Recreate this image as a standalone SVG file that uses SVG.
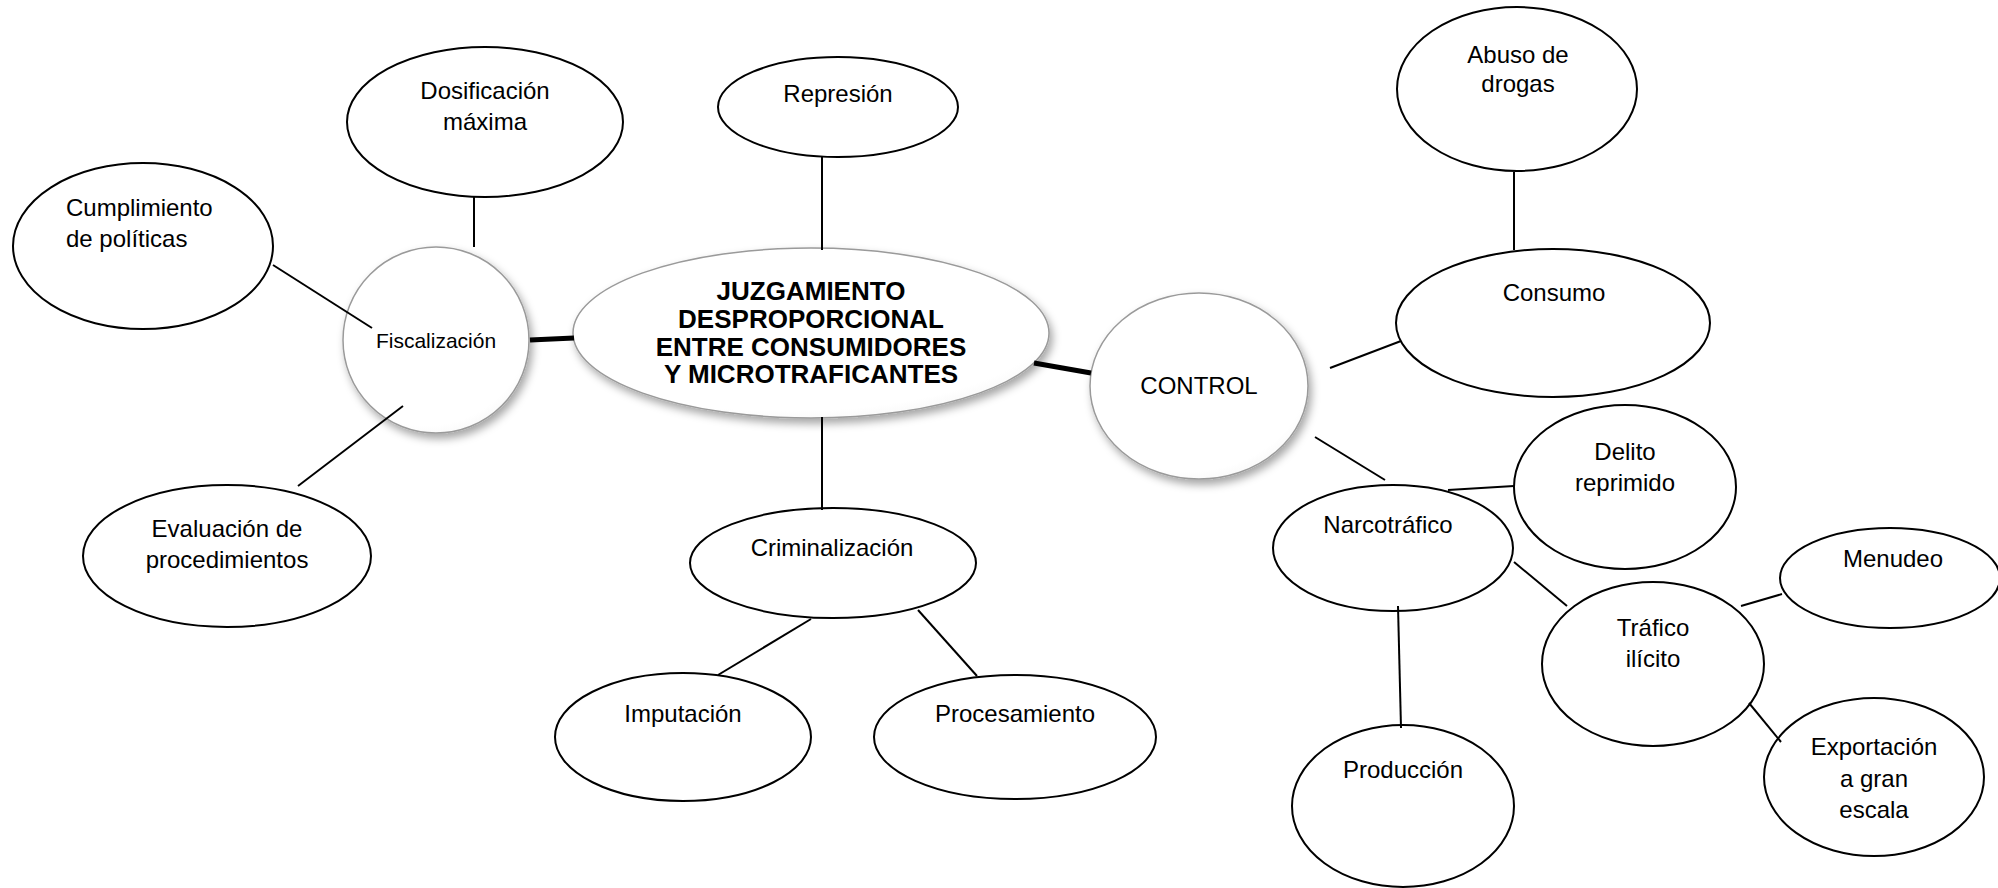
<svg xmlns="http://www.w3.org/2000/svg" width="1998" height="888" viewBox="0 0 1998 888">
<style>
text{font-family:"Liberation Sans",Arial,sans-serif;font-size:24px;fill:#000}
.c{text-anchor:middle}
.n{fill:#fff;stroke:#000;stroke-width:2}
.g{fill:url(#gf);stroke:#9a9a9a;stroke-width:1.5;filter:url(#sh)}
.ln{stroke:#000;stroke-width:2;fill:none}
.th{stroke:#000;stroke-width:5;fill:none}
.b{font-weight:bold;font-size:26px}
</style>
<defs>
<radialGradient id="gf" cx="0.45" cy="0.4" r="0.7">
<stop offset="0" stop-color="#ffffff"/>
<stop offset="0.8" stop-color="#ffffff"/>
<stop offset="1" stop-color="#f2f2f2"/>
</radialGradient>
<filter id="sh" x="-20%" y="-20%" width="150%" height="150%">
<feDropShadow dx="3" dy="5" stdDeviation="4" flood-color="#000" flood-opacity="0.35"/>
</filter>
</defs>
<rect width="1998" height="888" fill="#fff"/>
<g id="dosificacion"><ellipse class="n" cx="485" cy="122" rx="138" ry="75"/><text class="c" x="485" y="99">Dosificación</text><text class="c" x="485" y="130">máxima</text></g>
<g id="cumplimiento"><ellipse class="n" cx="143" cy="246" rx="130" ry="83"/><text x="66" y="216">Cumplimiento</text><text x="66" y="247">de políticas</text></g>
<g id="fiscalizacion"><ellipse class="g" cx="436" cy="340" rx="93" ry="93"/><text class="c" x="436" y="348" style="font-size:21px">Fiscalización</text></g>
<g id="evaluacion"><ellipse class="n" cx="227" cy="556" rx="144" ry="71"/><text class="c" x="227" y="537">Evaluación de</text><text class="c" x="227" y="568">procedimientos</text></g>
<g id="represion"><ellipse class="n" cx="838" cy="107" rx="120" ry="50"/><text class="c" x="838" y="102">Represión</text></g>
<g id="centro"><ellipse class="g" cx="811" cy="333" rx="238" ry="85"/>
<text class="c b" x="811" y="300">JUZGAMIENTO</text><text class="c b" x="811" y="328">DESPROPORCIONAL</text><text class="c b" x="811" y="356">ENTRE CONSUMIDORES</text><text class="c b" x="811" y="383">Y MICROTRAFICANTES</text></g>
<g id="criminalizacion"><ellipse class="n" cx="833" cy="563" rx="143" ry="55"/><text class="c" x="832" y="556">Criminalización</text></g>
<g id="imputacion"><ellipse class="n" cx="683" cy="737" rx="128" ry="64"/><text class="c" x="683" y="722">Imputación</text></g>
<g id="procesamiento"><ellipse class="n" cx="1015" cy="737" rx="141" ry="62"/><text class="c" x="1015" y="722">Procesamiento</text></g>
<g id="control"><ellipse class="g" cx="1199" cy="386" rx="109" ry="93"/><text class="c" x="1199" y="394">CONTROL</text></g>
<g id="abuso"><ellipse class="n" cx="1517" cy="89" rx="120" ry="82"/><text class="c" x="1518" y="63">Abuso de</text><text class="c" x="1518" y="92">drogas</text></g>
<g id="consumo"><ellipse class="n" cx="1553" cy="323" rx="157" ry="74"/><text class="c" x="1554" y="301">Consumo</text></g>
<g id="delito"><ellipse class="n" cx="1625" cy="487" rx="111" ry="82"/><text class="c" x="1625" y="460">Delito</text><text class="c" x="1625" y="491">reprimido</text></g>
<g id="narcotrafico"><ellipse class="n" cx="1393" cy="548" rx="120" ry="63"/><text class="c" x="1388" y="533">Narcotráfico</text></g>
<g id="trafico"><ellipse class="n" cx="1653" cy="664" rx="111" ry="82"/><text class="c" x="1653" y="636">Tráfico</text><text class="c" x="1653" y="667">ilícito</text></g>
<g id="menudeo"><ellipse class="n" cx="1890" cy="578" rx="110" ry="50"/><text class="c" x="1893" y="567">Menudeo</text></g>
<g id="exportacion"><ellipse class="n" cx="1874" cy="777" rx="110" ry="79"/><text class="c" x="1874" y="755">Exportación</text><text class="c" x="1874" y="787">a gran</text><text class="c" x="1874" y="818">escala</text></g>
<g id="produccion"><ellipse class="n" cx="1403" cy="806" rx="111" ry="81"/><text class="c" x="1403" y="778">Producción</text></g>
<g id="connectors">
<line class="ln" x1="474" y1="197" x2="474" y2="247"/>
<line class="ln" x1="273" y1="265" x2="372" y2="328"/>
<line class="ln" x1="403" y1="406" x2="298" y2="486"/>
<line class="th" x1="530" y1="340" x2="574" y2="338"/>
<line class="ln" x1="822" y1="157" x2="822" y2="250"/>
<line class="ln" x1="822" y1="417" x2="822" y2="510"/>
<line class="ln" x1="811" y1="619" x2="718" y2="675"/>
<line class="ln" x1="918" y1="610" x2="977" y2="676"/>
<line class="th" x1="1034" y1="363" x2="1091" y2="373"/>
<line class="ln" x1="1514" y1="172" x2="1514" y2="250"/>
<line class="ln" x1="1330" y1="368" x2="1401" y2="341"/>
<line class="ln" x1="1315" y1="437" x2="1385" y2="480"/>
<line class="ln" x1="1448" y1="490" x2="1514" y2="486"/>
<line class="ln" x1="1514" y1="562" x2="1567" y2="606"/>
<line class="ln" x1="1398" y1="606" x2="1401" y2="728"/>
<line class="ln" x1="1741" y1="606" x2="1782" y2="594"/>
<line class="ln" x1="1749" y1="703" x2="1781" y2="742"/>
</g>
</svg>
